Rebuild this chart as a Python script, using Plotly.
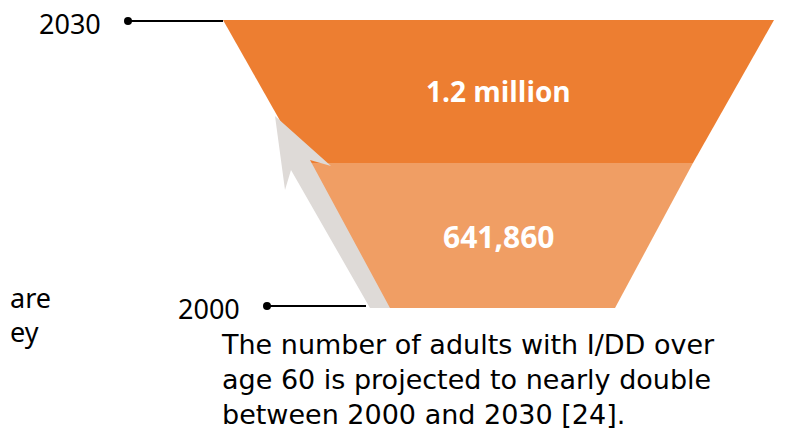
import plotly.graph_objects as go

# ---- data ----
years = ["2030", "2000"]
values = [1200000, 641860]
value_labels = ["1.2 million", "641,860"]
caption_lines = [
    "The number of adults with I/DD over",
    "age 60 is projected to nearly double",
    "between 2000 and 2030 [24].",
]
side_text = ["are", "ey"]

# ---- layout / geometry (pixels, page coordinates) ----
W, H = 791, 433
PAD = 8                            # default page body margin
CX = 498.5
LEVEL_Y = [20, 163, 308]           # top of stage 1, boundary, bottom of stage 2
HALF_W = [275.5, 194.5, 116.5]
COLORS = ["#ED7E31", "#F09E64"]
LABEL_SIZES = [28, 30]
ARROW_COLOR = "#DEDAD7"
TEXT_FONT = "Noto Sans"

fig = go.Figure()

# funnel stages
for i, (yr, val, lab) in enumerate(zip(years, values, value_labels)):
    y0, y1 = LEVEL_Y[i], LEVEL_Y[i + 1]
    h0, h1 = HALF_W[i], HALF_W[i + 1]
    xs = [CX - h0, CX + h0, CX + h1, CX - h1, CX - h0]
    ys = [y0, y0, y1, y1, y0]
    fig.add_trace(go.Scatter(x=xs, y=ys, fill="toself", fillcolor=COLORS[i],
                             mode="lines", line=dict(width=0, color=COLORS[i]),
                             hoverinfo="skip", showlegend=False))
    fig.add_annotation(x=CX, y=(y0 + y1) / 2 + (-1 if i == 0 else 1), text=f"<b>{lab}</b>",
                       showarrow=False, xref="x", yref="y",
                       font=dict(family="Open Sans", size=LABEL_SIZES[i], color="white"))

# growth arrow (decorative)
arrow_x = [275, 331, 310, 390, 370, 291, 285, 275]
arrow_y = [116, 166, 160, 308, 308, 170, 190, 116]
fig.add_trace(go.Scatter(x=arrow_x, y=arrow_y, fill="toself", fillcolor=ARROW_COLOR,
                         mode="lines", line=dict(width=0, color=ARROW_COLOR),
                         hoverinfo="skip", showlegend=False))

# year markers with leader lines
leaders = [(128, CX - HALF_W[0], 21), (267, 366, 306)]
for yr, (xd, xe, yl) in zip(years, leaders):
    fig.add_trace(go.Scatter(x=[xd, xe], y=[yl, yl], mode="lines",
                             line=dict(color="black", width=2),
                             hoverinfo="skip", showlegend=False))
    fig.add_trace(go.Scatter(x=[xd], y=[yl], mode="markers",
                             marker=dict(color="black", size=8),
                             hoverinfo="skip", showlegend=False))
    fig.add_annotation(x=xd - 25, y=yl + 2, text=yr, showarrow=False,
                       xanchor="right", yanchor="middle",
                       font=dict(family=TEXT_FONT, size=27, color="black"))

# caption
fig.add_annotation(x=219, y=379, text="<br>".join(caption_lines), showarrow=False,
                   xanchor="left", yanchor="middle", align="left",
                   font=dict(family="DejaVu Sans", size=27, color="black"))

# cropped neighbouring text
for txt, yc in zip(side_text, [297, 331]):
    fig.add_annotation(x=PAD, y=yc, text=txt, showarrow=False,
                       xanchor="left", yanchor="middle",
                       font=dict(family=TEXT_FONT, size=27, color="black"))

fig.update_layout(
    width=W - PAD, height=H - PAD,
    margin=dict(l=0, r=0, t=0, b=0),
    paper_bgcolor="white", plot_bgcolor="white",
    xaxis=dict(range=[PAD, W], visible=False, fixedrange=True),
    yaxis=dict(range=[H, PAD], visible=False, fixedrange=True),
)

fig.write_html("out.html")
